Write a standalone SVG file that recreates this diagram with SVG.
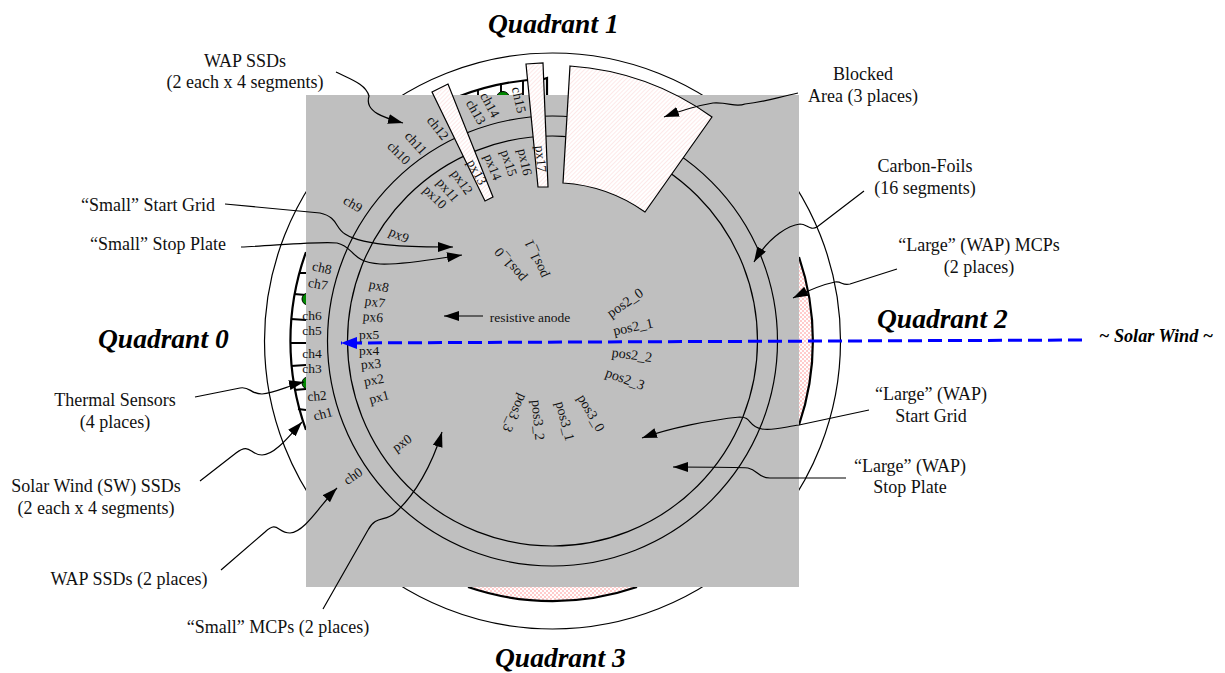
<svg xmlns="http://www.w3.org/2000/svg" width="1225" height="673" viewBox="0 0 1225 673">
<style>
text{font-family:"Liberation Serif","Times New Roman",serif;fill:#000}
.l{font-size:18px;text-anchor:middle;fill:#111}
.s{font-size:13.5px;text-anchor:middle;dominant-baseline:central;fill:#111}
.p{font-size:14px}
.q{font-size:27.5px;font-weight:bold;font-style:italic}
.t{fill:none;stroke:#000;stroke-width:1.2}
.b{fill:none;stroke:#000;stroke-width:2.2}
.k{fill:none;stroke:#000;stroke-width:1.9}
.a{fill:none;stroke:#000;stroke-width:1.2;marker-end:url(#ah)}
.h{fill:url(#hatch);stroke:#000;stroke-width:1.2}
</style>
<defs>
<marker id="ah" markerUnits="userSpaceOnUse" markerWidth="16" markerHeight="11" refX="15" refY="5" orient="auto"><path d="M0 0L15 5L0 10Z" fill="#000"/></marker>
<marker id="bh" markerUnits="userSpaceOnUse" markerWidth="17" markerHeight="12" refX="16" refY="6" orient="auto"><path d="M0 0L16 6L0 12Z" fill="#00f"/></marker>
<pattern id="hatch" width="3" height="3" patternUnits="userSpaceOnUse" patternTransform="rotate(-45)"><rect width="3" height="3" fill="#fff"/><rect width="3" height="1" fill="#fde8e8"/></pattern>
<pattern id="chk" width="4" height="4" patternUnits="userSpaceOnUse"><rect width="4" height="4" fill="#fff"/><rect width="2" height="2" fill="#fcc"/><rect x="2" y="2" width="2" height="2" fill="#fcc"/></pattern>
</defs>
<g id="back">
<circle class="t" cx="552.5" cy="341" r="288"/>
<path d="M799 257A261 261 0 0 1 799 425Z" fill="url(#chk)"/>
<path d="M468 587A261 261 0 0 0 637 587Z" fill="url(#chk)"/>
<path class="b" d="M799 257A261 261 0 0 1 799 425M468 587A261 261 0 0 0 637 587M306 252A262 262 0 0 0 306 430M460 96A262 262 0 0 1 544 79L547 78V95"/>
<path class="k" d="M306 273H299M306 295L294 294M306 320L291 319M306 343H290M306 365L291 366M306 389L294 390M306 410L298 409M478 90V95M501 83V92M523 80V95"/>
<circle cx="308" cy="299" r="6" fill="#080" stroke="#000"/><circle cx="308" cy="383" r="6" fill="#080" stroke="#000"/><circle cx="503" cy="98" r="6.5" fill="#080" stroke="#000"/>
</g>
<rect id="panel" x="306" y="95" width="493" height="492" fill="#bfbfbf"/>
<g id="rings">
<circle class="t" cx="552.5" cy="341" r="225"/>
<circle class="t" cx="552.5" cy="341" r="205"/>
</g>
<g id="blocked">
<path class="h" d="M570 66A276 276 0 0 1 712 117L645 212A159 159 0 0 0 563 183Z"/>
<path class="h" d="M432 92L448 84L493 197L485 201Z"/>
<path class="h" d="M526 64L543 63L548 187L538 187Z"/>
</g>
<g id="labels-ch">
<text class="s" transform="translate(519 100) rotate(78)">ch15</text>
<text class="s" transform="translate(490 105) rotate(62)">ch14</text>
<text class="s" transform="translate(476 112) rotate(60)">ch13</text>
<text class="s" transform="translate(438 128) rotate(52)">ch12</text>
<text class="s" transform="translate(416 143) rotate(48)">ch11</text>
<text class="s" transform="translate(399 153) rotate(45)">ch10</text>
<text class="s" transform="translate(353 204) rotate(30)">ch9</text>
<text class="s" transform="translate(322 268) rotate(12)">ch8</text>
<text class="s" transform="translate(318 284) rotate(10)">ch7</text>
<text class="s" x="312" y="315">ch6</text>
<text class="s" x="312" y="330">ch5</text>
<text class="s" x="312" y="353">ch4</text>
<text class="s" x="312" y="368">ch3</text>
<text class="s" transform="translate(317 396) rotate(-5)">ch2</text>
<text class="s" transform="translate(323 414) rotate(-15)">ch1</text>
<text class="s" transform="translate(353 476) rotate(-35)">ch0</text>
</g>
<g id="labels-px">
<text class="s" transform="translate(379 397) rotate(-15)">px1</text>
<text class="s" transform="translate(374 380) rotate(-10)">px2</text>
<text class="s" transform="translate(371 364) rotate(-5)">px3</text>
<text class="s" x="369" y="350">px4</text>
<text class="s" x="369" y="334">px5</text>
<text class="s" transform="translate(373 317) rotate(5)">px6</text>
<text class="s" transform="translate(375 302) rotate(8)">px7</text>
<text class="s" transform="translate(379 286) rotate(12)">px8</text>
<text class="s" transform="translate(402 443) rotate(-35)">px0</text>
<text class="s" transform="translate(399 235) rotate(25)">px9</text>
<text class="s" transform="translate(435 197) rotate(45)">px10</text>
<text class="s" transform="translate(448 190) rotate(50)">px11</text>
<text class="s" transform="translate(462 182) rotate(55)">px12</text>
<text class="s" transform="translate(477 172) rotate(62)">px13</text>
<text class="s" transform="translate(493 167) rotate(68)">px14</text>
<text class="s" transform="translate(509 163) rotate(72)">px15</text>
<text class="s" transform="translate(525 162) rotate(78)">px16</text>
<text class="s" transform="translate(541 159) rotate(85)">px17</text>
</g>
<g id="labels-pos">
<text class="s p" transform="translate(510 265) rotate(-130)">pos1_0</text>
<text class="s p" transform="translate(536 259) rotate(-113)">pos1_1</text>
<text class="s p" transform="translate(625 303) rotate(-35)">pos2_0</text>
<text class="s p" transform="translate(633 327) rotate(-12)">pos2_1</text>
<text class="s p" transform="translate(632 355) rotate(8)">pos2_2</text>
<text class="s p" transform="translate(625 379) rotate(20)">pos2_3</text>
<text class="s p" transform="translate(591 413) rotate(60)">pos3_0</text>
<text class="s p" transform="translate(565 421) rotate(75)">pos3_1</text>
<text class="s p" transform="translate(538 420) rotate(85)">pos3_2</text>
<text class="s p" transform="translate(515 413) rotate(115)">pos3_3</text>
<text class="s" x="530" y="317">resistive anode</text>
</g>
<g id="connectors">
<path class="a" d="M336 72C350 79 366 84 369 96C364 112 385 118 403 123"/>
<path class="a" d="M798 93C775 98 765 102 745 104C735 108 730 102 713 103C695 106 680 111 664 117"/>
<path class="a" d="M864 191L817 227C810 231 807 224 800 224C790 225 770 235 754 262"/>
<path class="a" d="M897 269L850 284C842 286 842 281 835 282C820 285 805 292 793 298"/>
<path class="a" d="M869 410L799 425C785 427 772 431 762 429C748 427 752 417 740 417C710 420 670 428 642 438"/>
<path class="a" d="M846 478L770 478C758 478 758 470 748 468C740 467 700 467 673 467"/>
<path class="a" d="M225 204L320 213C338 217 335 228 345 234C365 247 420 247 453 247"/>
<path class="a" d="M241 247C270 246 320 241 337 243C355 247 350 262 380 264C405 265 435 259 462 255"/>
<path class="a" d="M483 316H444"/>
<path class="a" d="M195 397L240 388C250 386 250 394 262 394C275 393 290 385 304 382"/>
<path class="a" d="M200 481L236 453C250 442 250 455 262 455C275 455 290 435 302 422"/>
<path class="a" d="M221 570L265 532C278 520 277 533 290 533C305 532 320 505 337 488"/>
<path class="a" d="M323 609L368 530C376 515 385 522 395 513C415 495 432 465 442 432"/>
<path d="M1082 340L341 343" fill="none" stroke="#00f" stroke-width="3" stroke-dasharray="14 6" marker-end="url(#bh)"/>
</g>
<g id="captions">
<text class="q" x="488" y="33">Quadrant 1</text>
<text class="q" x="98" y="348">Quadrant 0</text>
<text class="q" x="877" y="328">Quadrant 2</text>
<text class="q" x="495" y="667">Quadrant 3</text>
<text style="font-size:18.2px;font-weight:bold;font-style:italic" x="1099" y="342">~ Solar Wind ~</text>
<text class="l" x="245" y="67">WAP SSDs</text><text class="l" x="245" y="88">(2 each x 4 segments)</text>
<text class="l" x="863" y="80">Blocked</text><text class="l" x="863" y="102">Area (3 places)</text>
<text class="l" x="925" y="172">Carbon-Foils</text><text class="l" x="925" y="194">(16 segments)</text>
<text class="l" x="979" y="251">“Large” (WAP) MCPs</text><text class="l" x="979" y="273">(2 places)</text>
<text class="l" x="931" y="400">“Large” (WAP)</text><text class="l" x="931" y="422">Start Grid</text>
<text class="l" x="910" y="472">“Large” (WAP)</text><text class="l" x="910" y="493">Stop Plate</text>
<text class="l" x="148" y="211">“Small” Start Grid</text>
<text class="l" x="158" y="250">“Small” Stop Plate</text>
<text class="l" x="115" y="406">Thermal Sensors</text><text class="l" x="115" y="428">(4 places)</text>
<text class="l" x="96" y="492">Solar Wind (SW) SSDs</text><text class="l" x="96" y="514">(2 each x 4 segments)</text>
<text class="l" x="129" y="585">WAP SSDs (2 places)</text>
<text class="l" x="278" y="633">“Small” MCPs (2 places)</text>
</g>
</svg>
